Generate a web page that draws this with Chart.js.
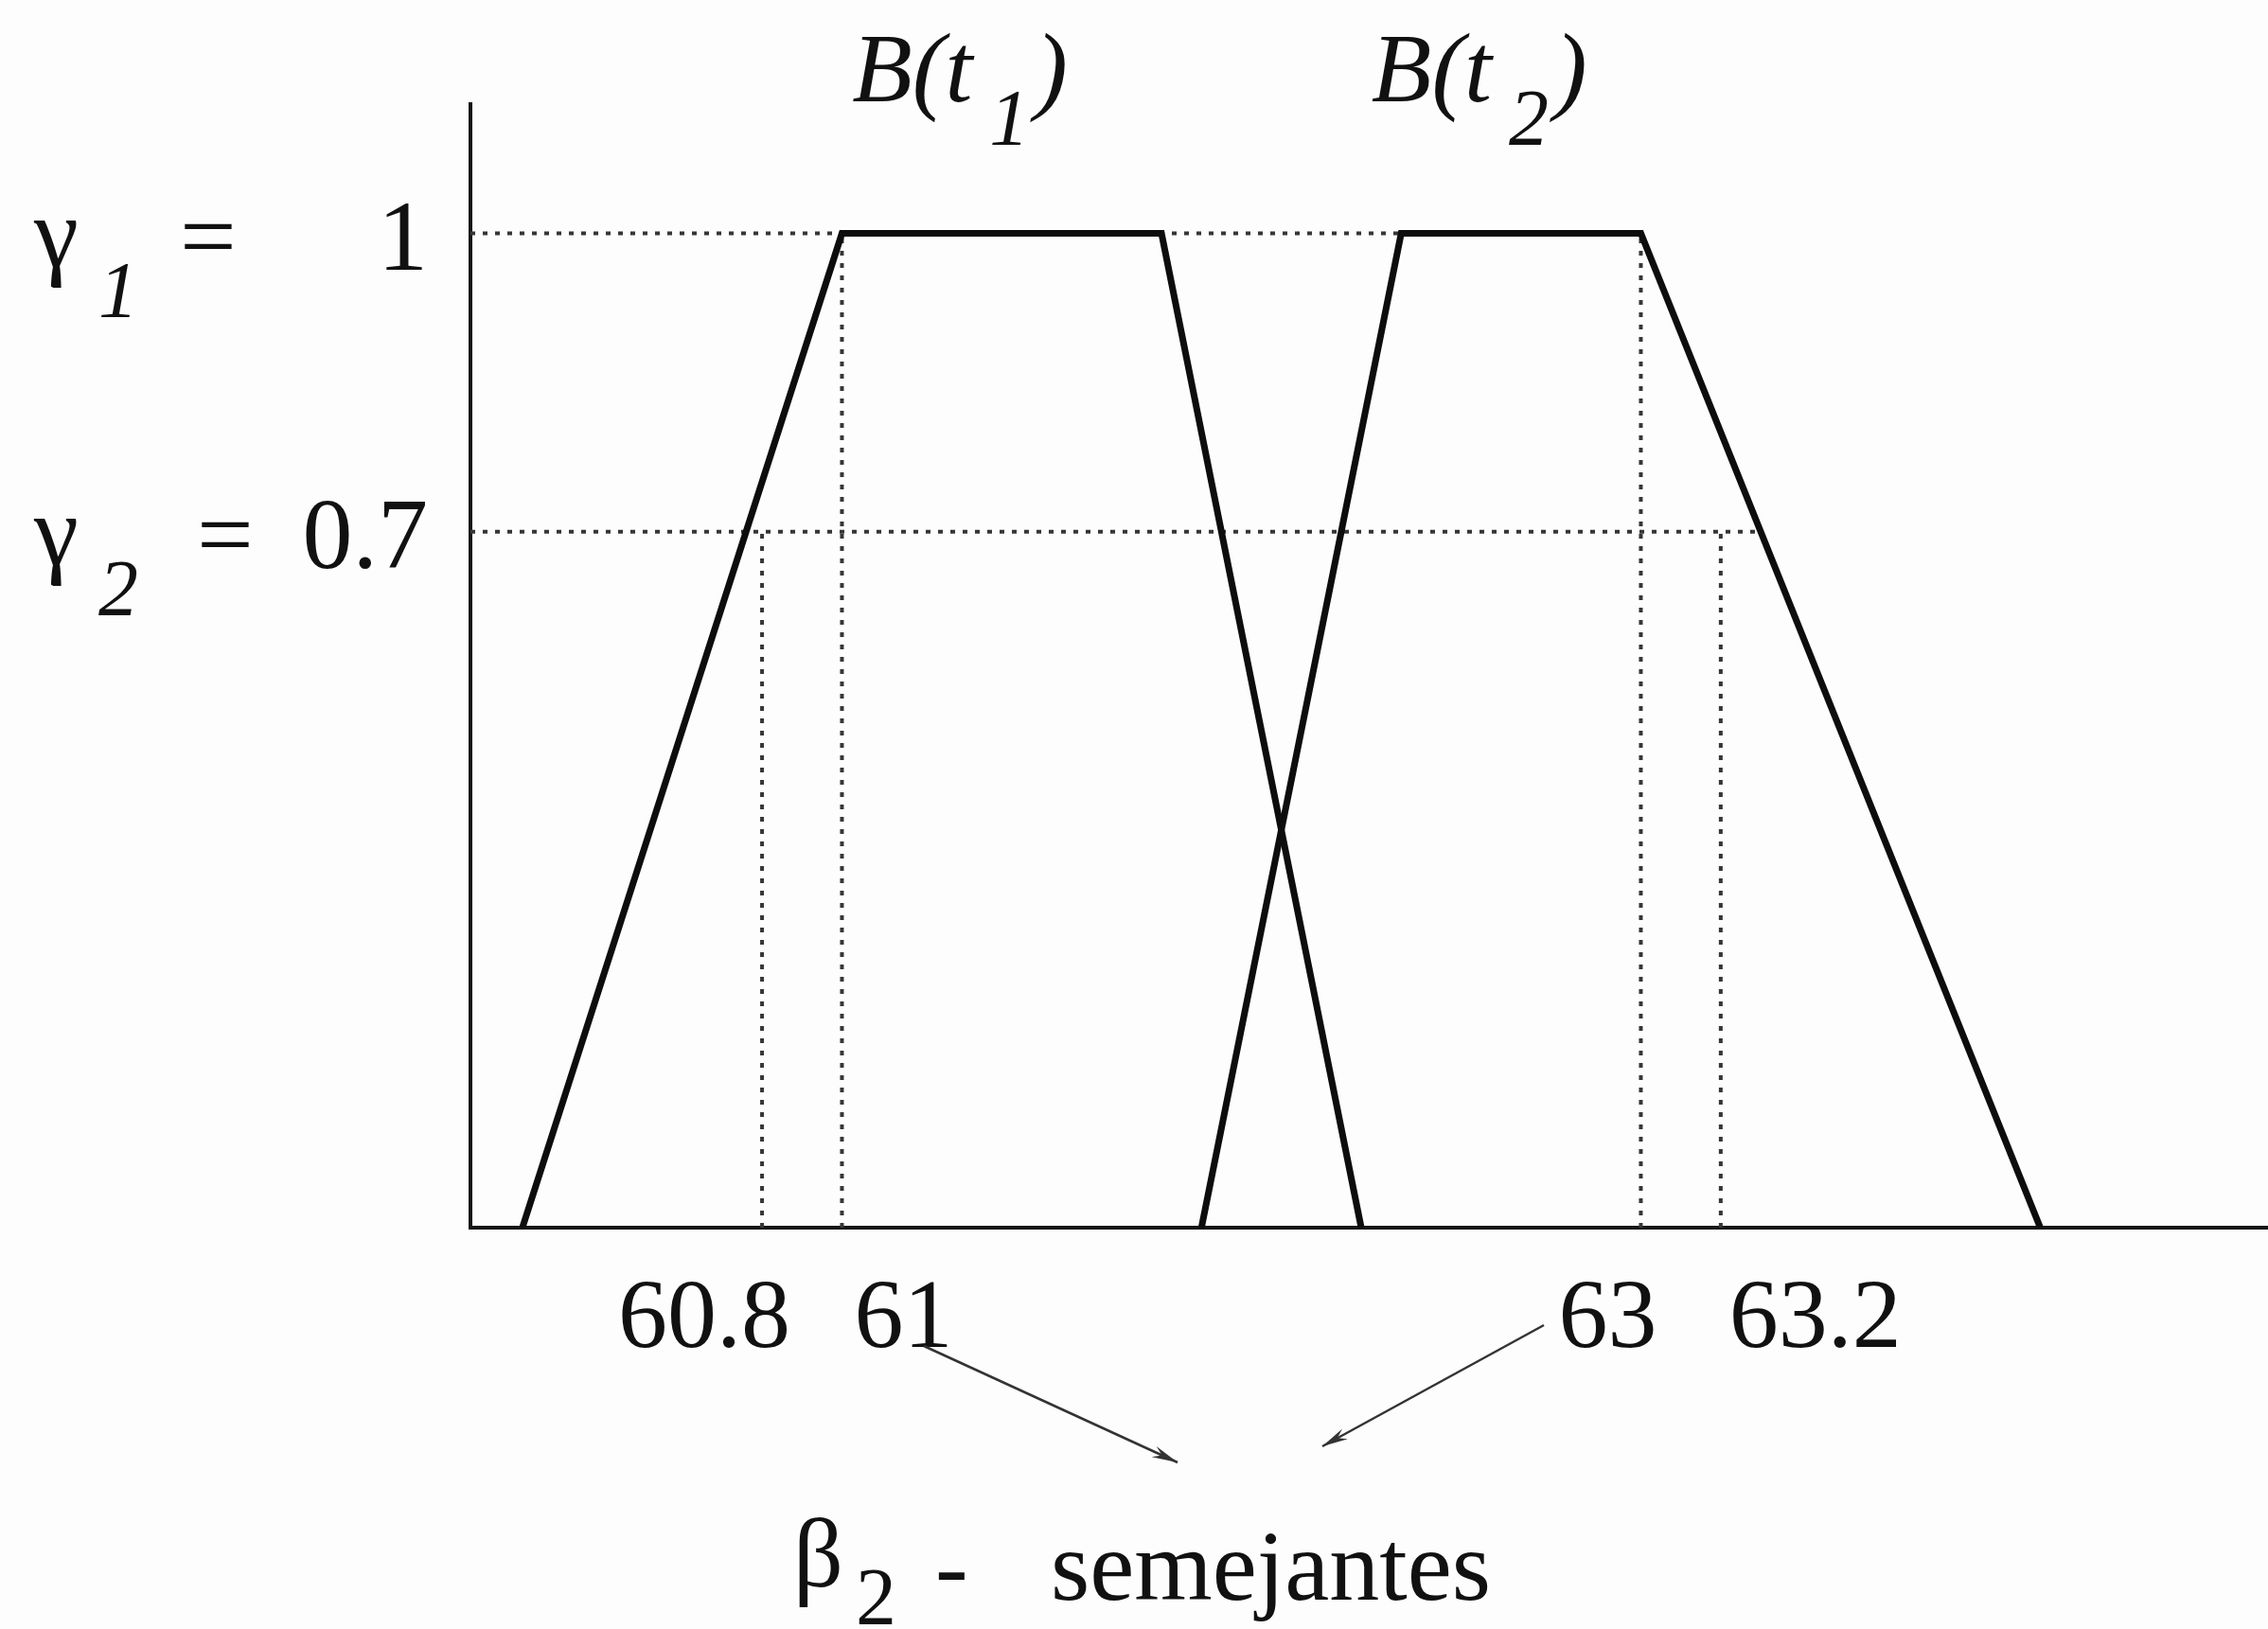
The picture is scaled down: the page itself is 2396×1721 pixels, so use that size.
<!DOCTYPE html>
<html>
<head>
<meta charset="utf-8">
<script src="https://cdn.jsdelivr.net/npm/chart.js@4.4.1/dist/chart.umd.min.js"></script>
<style>
  html, body { margin: 0; padding: 0; background: #fdfdfd; }
  canvas { display: block; }
</style>
</head>
<body>
<canvas id="graficoSemejantes" width="2396" height="1721"></canvas>
<script>
// trapecios B(t1) y B(t2): vertices (x) y grado de pertenencia (y)
const b1X = [60.2, 61, 61.8, 62.3];
const b1Y = [0, 1, 1, 0];
const b2X = [61.9, 62.4, 63, 64.0];
const b2Y = [0, 1, 1, 0];
const seriesSubs = ['1', '2'];

// niveles gamma
const levels = [1, 0.7];
const levelLabels = ['1', '0.7'];
const gammaSubs = ['1', '2'];

// marcas del eje x y hasta que nivel sube la linea punteada
const xTicks = [60.8, 61, 63, 63.2];
const xTickLabels = ['60.8', '61', '63', '63.2'];
const xTickLevels = [0.7, 1, 1, 0.7];

const xMin = 60.07, xMax = 64.57, yMax = 1.13;

const pts = (xs, ys) => xs.map((v, i) => ({ x: v, y: ys[i] }));

// fin de cada linea punteada horizontal: donde corta el lado derecho de B(t2)
function cutRight(level) {
    return b2X[2] + (1 - level) * (b2X[3] - b2X[2]);
}

const punteado = { borderColor: '#363636', borderWidth: 4, borderDash: [5, 8], pointRadius: 0, tension: 0, order: 2 };
const solido = { borderColor: '#0d0d0d', borderWidth: 7, pointRadius: 0, tension: 0, borderJoinStyle: 'miter', order: 0 };

const datasets = [
    Object.assign({ data: pts(b1X, b1Y) }, solido),
    Object.assign({ data: pts(b2X, b2Y) }, solido)
];
levels.forEach(lv => {
    const end = lv === 1 ? b2X[2] : cutRight(lv);
    datasets.push(Object.assign({ data: [{ x: xMin, y: lv }, { x: end, y: lv }] }, punteado));
});
xTicks.forEach((t, i) => {
    datasets.push(Object.assign({ data: [{ x: t, y: 0 }, { x: t, y: xTickLevels[i] }] }, punteado));
});

const SERIF = '"Liberation Serif", "Times New Roman", serif';

function arrow(ctx, x1, y1, x2, y2) {
    const a = Math.atan2(y2 - y1, x2 - x1);
    ctx.beginPath();
    ctx.moveTo(x1, y1);
    ctx.lineTo(x2, y2);
    ctx.stroke();
    ctx.beginPath();
    ctx.moveTo(x2, y2);
    ctx.lineTo(x2 - 28 * Math.cos(a - 0.22), y2 - 28 * Math.sin(a - 0.22));
    ctx.lineTo(x2 - 18 * Math.cos(a), y2 - 18 * Math.sin(a));
    ctx.lineTo(x2 - 28 * Math.cos(a + 0.22), y2 - 28 * Math.sin(a + 0.22));
    ctx.closePath();
    ctx.fill();
}

const etiquetas = {
    id: 'etiquetas',
    beforeDraw(chart) {
        const c = chart.ctx;
        c.save();
        c.fillStyle = '#fdfdfd';
        c.fillRect(0, 0, chart.width, chart.height);
        c.restore();
    },
    afterDraw(chart) {
        const { ctx, scales: { x, y } } = chart;
        ctx.save();
        ctx.fillStyle = '#111';
        ctx.textBaseline = 'alphabetic';

        // gamma_i = valor
        const eqX = [190, 208];
        levels.forEach((lv, i) => {
            const base = y.getPixelForValue(lv) + 38;
            ctx.font = '106px ' + SERIF;
            ctx.textAlign = 'left';
            ctx.fillText('γ', 36, base - 4);
            ctx.fillText('=', eqX[i], base);
            ctx.textAlign = 'right';
            ctx.fillText(levelLabels[i], 452, base);
            ctx.font = 'italic 84px ' + SERIF;
            ctx.textAlign = 'left';
            ctx.fillText(gammaSubs[i], 104, base + 50);
        });

        // B(t1), B(t2) encima de cada trapecio
        [b1X, b2X].forEach((xs, i) => {
            let px = x.getPixelForValue((xs[1] + xs[2]) / 2) - 158;
            const base = 107;
            ctx.textAlign = 'left';
            ctx.font = 'italic 104px ' + SERIF;
            ctx.fillText('B(t', px, base);
            px += ctx.measureText('B(t').width + 18;
            ctx.font = 'italic 84px ' + SERIF;
            ctx.fillText(seriesSubs[i], px, base + 46);
            px += ctx.measureText(seriesSubs[i]).width + 6;
            ctx.font = 'italic 104px ' + SERIF;
            ctx.fillText(')', px, base);
        });

        // marcas del eje x
        const align = ['right', 'left', 'right', 'left'];
        const shift = [30, 13, 17, 9];
        ctx.font = '104px ' + SERIF;
        xTicks.forEach((t, i) => {
            ctx.textAlign = align[i];
            ctx.fillText(xTickLabels[i], x.getPixelForValue(t) + shift[i], 1423);
        });

        // flechas hacia la leyenda
        ctx.strokeStyle = '#333';
        ctx.fillStyle = '#333';
        ctx.lineWidth = 2.5;
        arrow(ctx, 976, 1422, 1244, 1545);
        arrow(ctx, 1631, 1400, 1397, 1528);

        // beta_2 - semejantes
        ctx.fillStyle = '#111';
        ctx.textAlign = 'left';
        ctx.font = '104px ' + SERIF;
        ctx.fillText('β', 838, 1676);
        ctx.font = '86px ' + SERIF;
        ctx.fillText('2', 904, 1716);
        ctx.font = '104px ' + SERIF;
        ctx.fillText('-', 988, 1690);
        ctx.font = '106px ' + SERIF;
        ctx.fillText('semejantes', 1110, 1690);
        ctx.restore();
    }
};

const ctx = document.getElementById('graficoSemejantes').getContext('2d');
new Chart(ctx, {
    type: 'line',
    data: { datasets: datasets },
    plugins: [etiquetas],
    options: {
        responsive: false,
        animation: false,
        devicePixelRatio: 1,
        layout: { padding: { left: 497, top: 110, right: 0, bottom: 424 } },
        plugins: { legend: { display: false }, tooltip: { enabled: false } },
        scales: {
            x: {
                type: 'linear',
                min: xMin,
                max: xMax,
                ticks: { display: false },
                grid: { display: false, drawTicks: false },
                border: { display: true, color: '#151515', width: 4 }
            },
            y: {
                min: 0,
                max: yMax,
                ticks: { display: false },
                grid: { display: false, drawTicks: false },
                border: { display: true, color: '#151515', width: 4 }
            }
        }
    }
});
</script>
</body>
</html>
